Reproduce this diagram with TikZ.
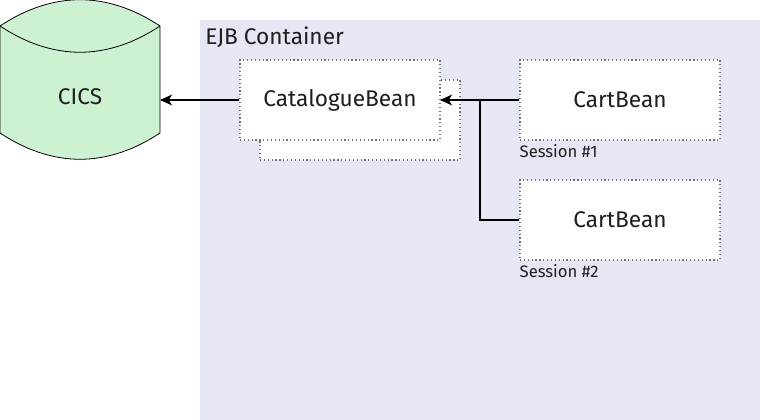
\documentclass[tikz,border=0pt]{standalone}
\usepackage{fontspec}
\setmainfont{Fira Sans}
\usetikzlibrary{arrows.meta}
\definecolor{ejbbg}{HTML}{E6E7F5}
\definecolor{dbfill}{HTML}{CDF2D2}
\definecolor{textgrey}{HTML}{1E1E1E}
\tikzset{
	beanbox/.style={draw=black!55, dotted, line width=0.9pt, fill=white, minimum width=150pt, minimum height=60pt, inner sep=0pt, text=textgrey, font=\fontsize{17}{19}\selectfont},
	sessionlabel/.style={anchor=north west, inner sep=0pt, text=textgrey, font=\fontsize{12.5}{14}\selectfont},
	link/.style={line width=1.5pt, -{Stealth[length=9pt, width=8pt, inset=2.5pt]}}
}

\begin{document}
\begin{tikzpicture}[x=0.75pt, y=-0.75pt]
			%%%%% START %%%%%
			
			\useasboundingbox (0, 0) rectangle (760, 420);
			
			% container
			\fill[ejbbg] (200, 20) rectangle (760, 420);
			\node[anchor=west, inner sep=0pt, text=textgrey, font=\fontsize{17}{19}\selectfont] (ejb) at (205, 37) {EJB Container};
			
			% database
			\draw[fill=dbfill, line width=0.6pt] (0, 26) .. controls (53, -9) and (107, -9) .. (160, 26) -- (160, 133) .. controls (107, 168) and (53, 168) .. (0, 133) -- cycle;
			\draw[line width=0.6pt] (0, 26) .. controls (53, 61) and (107, 61) .. (160, 26);
			\node[inner sep=0pt, text=textgrey, font=\fontsize{17}{19}\selectfont] (cics) at (80, 97) {CICS};
			\coordinate (cicsin) at (160, 100);
			
			% beans
			\node[beanbox] (catback) at (360, 120) {};
			\node[beanbox] (catalogue) at (340, 100) {CatalogueBean};
			\coordinate (catin) at (440, 100);
			\node[beanbox] (cart1) at (620, 100) {CartBean};
			\node[beanbox] (cart2) at (620, 220) {CartBean};
			\node[sessionlabel] (sess1) at (cart1.south west) [yshift=-3pt] {Session \#1};
			\node[sessionlabel] (sess2) at (cart2.south west) [yshift=-3pt] {Session \#2};
			
			% calls
			\draw[link] (catalogue.west) -- (cicsin);
			\draw[link] (cart1.west) -- (catin);
			\draw[line width=1.5pt] (cart2.west) -| (480, 100);
			
			%%%%% END %%%%%
		\end{tikzpicture}
\end{document}
